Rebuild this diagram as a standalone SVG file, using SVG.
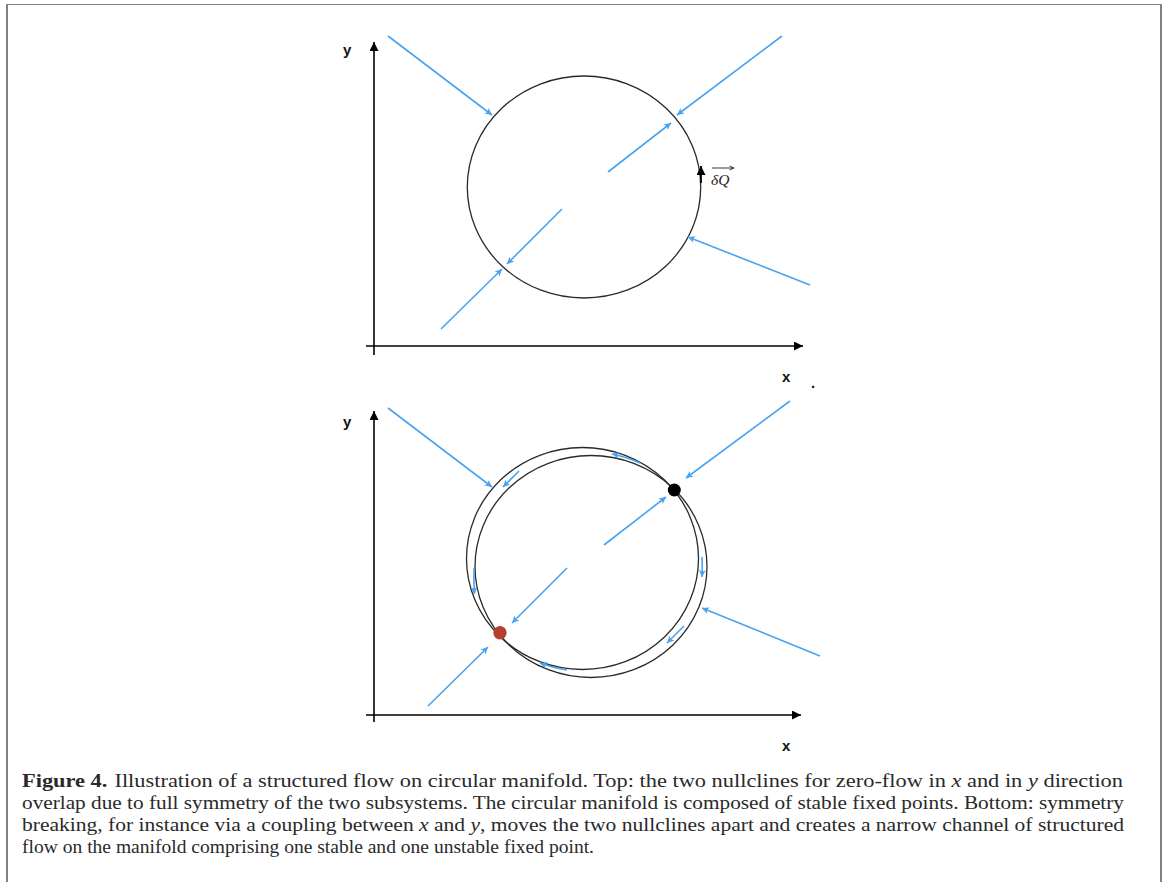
<svg xmlns="http://www.w3.org/2000/svg" width="1165" height="887" viewBox="0 0 1165 887">
<style>
.frame{stroke:#808080;fill:none}
.axis{stroke:#000;stroke-width:1.6;fill:none}
.flow{stroke:#4aa3f0;stroke-width:1.6;fill:none}
.mf{stroke:#2a2a2a;stroke-width:1.3;fill:none}
.lbl{font-family:"Liberation Sans",Arial,sans-serif;font-weight:bold;font-size:15px;fill:#111}
.cap{font-family:"Liberation Serif","Times New Roman",serif;font-size:19px;fill:#2a2a2a}
</style>
<defs>
<marker id="ah" viewBox="0 0 10 10" refX="10" refY="5" markerWidth="9" markerHeight="9" markerUnits="userSpaceOnUse" orient="auto">
<path d="M0,0 L10,5 L0,10 Z" fill="#000"/>
</marker>
<marker id="bh" viewBox="0 0 10 10" refX="10" refY="5" markerWidth="9" markerHeight="7" markerUnits="userSpaceOnUse" orient="auto">
<path d="M0,0 L10,5 L0,10 L2.5,5 Z" fill="#4aa3f0"/>
</marker>
</defs>
<rect width="1165" height="887" fill="#fff"/>
<g id="frame">
<line class="frame" x1="6" y1="4.5" x2="1162" y2="4.5" stroke-width="1"/>
<line class="frame" x1="7" y1="4" x2="7" y2="882" stroke-width="2"/>
<line class="frame" x1="1161" y1="4" x2="1161" y2="882" stroke-width="2"/>
</g>
<g id="top-panel">
<g id="top-axes">
<line class="axis" x1="374" y1="355" x2="374" y2="42" marker-end="url(#ah)"/>
<line class="axis" x1="366" y1="346" x2="803" y2="346" marker-end="url(#ah)"/>
<text class="lbl" x="343" y="55">y</text>
<text class="lbl" x="782" y="382">x</text>
<text class="lbl" x="811" y="388">.</text>
</g>
<g id="top-manifold">
<ellipse class="mf" cx="584" cy="187" rx="116.7" ry="111"/>
</g>
<g id="top-dq">
<line x1="701" y1="183" x2="701" y2="166" stroke="#000" stroke-width="1.8" marker-end="url(#ah)"/>
<text x="711" y="185" font-family="Liberation Serif,serif" font-style="italic" font-size="15.5" fill="#222">δQ</text>
<line x1="712" y1="168" x2="733" y2="168" stroke="#222" stroke-width="0.9"/>
<path d="M729.5,166 L734,168 L729.5,170" fill="none" stroke="#222" stroke-width="0.9"/>
</g>
<g id="top-connectors">
<line class="flow" x1="388" y1="36" x2="492" y2="115" marker-end="url(#bh)"/>
<line class="flow" x1="782" y1="36" x2="677" y2="115" marker-end="url(#bh)"/>
<line class="flow" x1="608" y1="172" x2="671" y2="123" marker-end="url(#bh)"/>
<line class="flow" x1="562" y1="209" x2="507" y2="264" marker-end="url(#bh)"/>
<line class="flow" x1="441" y1="329" x2="502" y2="269" marker-end="url(#bh)"/>
<line class="flow" x1="810" y1="285" x2="688" y2="237" marker-end="url(#bh)"/>
</g>
</g>
<g id="bottom-panel">
<g id="bottom-axes">
<line class="axis" x1="374" y1="722" x2="374" y2="411" marker-end="url(#ah)"/>
<line class="axis" x1="366" y1="715" x2="801" y2="715" marker-end="url(#ah)"/>
<text class="lbl" x="343" y="427">y</text>
<text class="lbl" x="782" y="751">x</text>
</g>
<g id="bottom-manifolds">
<ellipse class="mf" cx="582.5" cy="558.5" rx="116" ry="111"/>
<ellipse class="mf" cx="591" cy="566.5" rx="116" ry="111"/>
</g>
<g id="bottom-connectors">
<line class="flow" x1="388" y1="408" x2="492" y2="487" marker-end="url(#bh)"/>
<line class="flow" x1="790" y1="401" x2="686" y2="478" marker-end="url(#bh)"/>
<line class="flow" x1="604" y1="545" x2="666" y2="497" marker-end="url(#bh)"/>
<line class="flow" x1="567" y1="568" x2="512" y2="623" marker-end="url(#bh)"/>
<line class="flow" x1="428" y1="706" x2="488" y2="647" marker-end="url(#bh)"/>
<line class="flow" x1="820" y1="656" x2="702" y2="608" marker-end="url(#bh)"/>
<path class="flow" d="M640,463 Q627,457 612,454" marker-end="url(#bh)"/>
<line class="flow" x1="519" y1="471" x2="503" y2="487" marker-end="url(#bh)"/>
<path class="flow" d="M474,568 Q473.5,581 474.5,594" marker-end="url(#bh)"/>
<path class="flow" d="M567,670 Q553,668 540,663" marker-end="url(#bh)"/>
<path class="flow" d="M702,557 Q702.5,567 702,577" marker-end="url(#bh)"/>
<line class="flow" x1="684" y1="626" x2="667" y2="643" marker-end="url(#bh)"/>
</g>
<g id="stable-point">
<circle cx="674.3" cy="490" r="6.5" fill="#000"/>
</g>
<g id="unstable-point">
<circle cx="500" cy="632.7" r="6.7" fill="#b5402c"/>
</g>
</g>
<g id="caption">
<text class="cap" x="22" y="787" textLength="1101" lengthAdjust="spacingAndGlyphs"><tspan font-weight="bold">Figure 4.</tspan><tspan dx="6">Illustration of a structured flow on circular manifold. Top: the two nullclines for zero-flow in </tspan><tspan font-style="italic">x</tspan> and in <tspan font-style="italic">y</tspan> direction</text>
<text class="cap" x="22" y="809" textLength="1102" lengthAdjust="spacingAndGlyphs">overlap due to full symmetry of the two subsystems. The circular manifold is composed of stable fixed points. Bottom: symmetry</text>
<text class="cap" x="22" y="831" textLength="1102" lengthAdjust="spacingAndGlyphs">breaking, for instance via a coupling between <tspan font-style="italic">x</tspan> and <tspan font-style="italic">y</tspan>, moves the two nullclines apart and creates a narrow channel of structured</text>
<text class="cap" x="22" y="853" textLength="572" lengthAdjust="spacingAndGlyphs">flow on the manifold comprising one stable and one unstable fixed point.</text>
</g>
</svg>
